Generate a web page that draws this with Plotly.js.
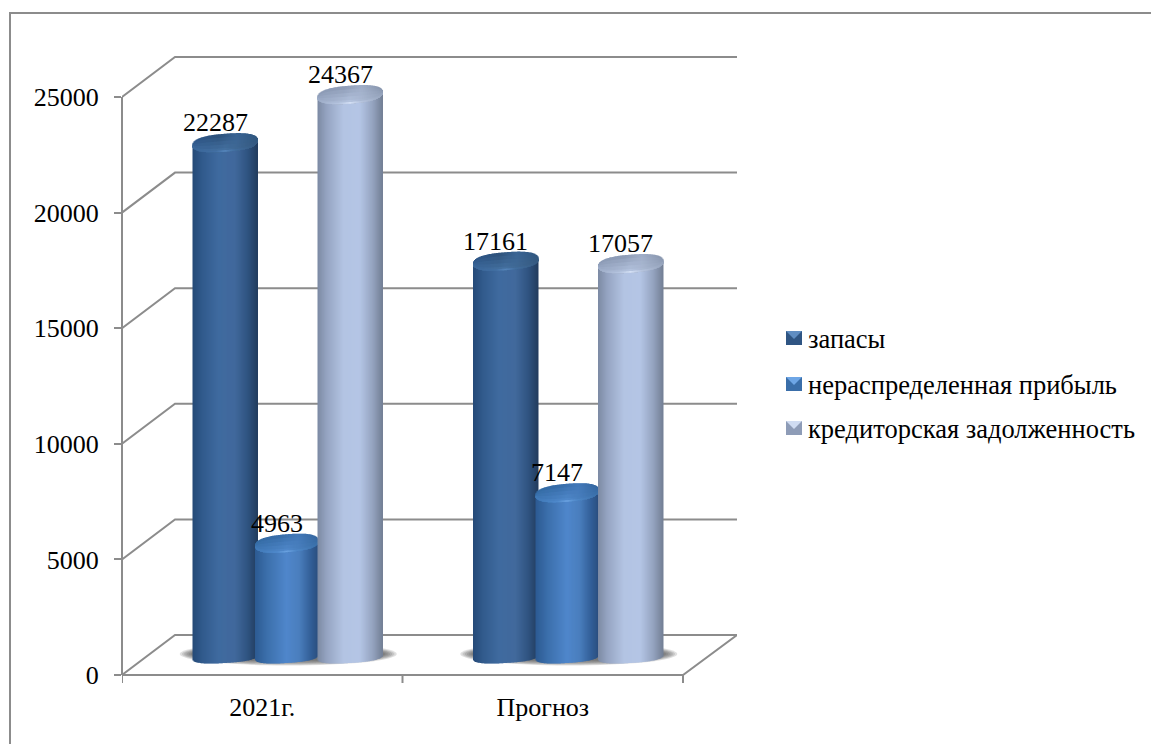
<!DOCTYPE html>
<html><head><meta charset="utf-8">
<script src="https://cdn.plot.ly/plotly-3.0.1.min.js"></script>
<style>html,body{margin:0;padding:0;background:#fff;overflow:hidden}#c{width:1151px;height:744px}</style>
</head><body><div id="c"></div>
<script>
const categories = ["2021г.", "Прогноз"];
const seriesNames = ["запасы", "нераспределенная прибыль", "кредиторская задолженность"];
const zapasy = [22287, 17161];
const pribyl = [4963, 7147];
const kredit = [24367, 17057];
const yTicks = [0, 5000, 10000, 15000, 20000, 25000];

const values = [zapasy, pribyl, kredit];
// styles: horizontal gradients across each cylinder [u, colour]
const bodyStops = [
  [[-1,'#254a78'],[-0.7,'#315a8c'],[-0.2,'#3f6a9f'],[0.3,'#41699c'],[0.7,'#2f5380'],[1,'#223c5e']],
  [[-1,'#2c5a92'],[-0.6,'#3c70ac'],[0,'#4f86cb'],[0.4,'#4a7ebd'],[0.8,'#315c94'],[1,'#2a4e7e']],
  [[-1,'#7c8aa3'],[-0.7,'#96a5c3'],[-0.2,'#b3c4e3'],[0.3,'#b4c5e5'],[0.7,'#94a3bf'],[1,'#737f95']]
];
const capStops = [
  [[-1,'#2f588a'],[-0.2,'#2e527c'],[0.35,'#3a6494'],[1,'#2f567f']],
  [[-1,'#346ba4'],[-0.2,'#386eaa'],[0.35,'#4379b9'],[1,'#33659d']],
  [[-1,'#8c9bb6'],[-0.2,'#8f9db7'],[0.35,'#a0aec8'],[1,'#8795ad']]
];
const lowStops = [
  [[-1,'#3a6698'],[0,'#44709f'],[1,'#35597f']],
  [[-1,'#3f78b6'],[0,'#5088ca'],[1,'#3a6fa8']],
  [[-1,'#9cabc6'],[0,'#b4c3de'],[1,'#96a4bc']]
];
const rimStops = [
  [[-1,'#3a6698'],[-0.3,'#426fa3'],[0,'#5584ba'],[0.3,'#426e9f'],[1,'#35597f']],
  [[-1,'#3f78b6'],[-0.3,'#4f89cb'],[0,'#6aa1e0'],[0.3,'#4f88c8'],[1,'#3a6fa8']],
  [[-1,'#9cabc6'],[-0.3,'#b8c7e2'],[0,'#d4e0f5'],[0.3,'#b8c6e0'],[1,'#96a4bc']]
];
const swatch = [['#2f5583','#5f8dc2'],['#3a6ea9','#6ea6e6'],['#8e9cb7','#d0dcf2']];
const gray = '#8c8c8c';

// pixel geometry of the pseudo-3D frame
const L = 122, R = 737, T = 50, B = 683, W = 1151, H = 744;
const pxPerCat = 280.5, pxPerVal = 578 / 25000, y0Px = 675;
const depthX = 53, depthY = 40;
const xLow = -0.5, xHigh = xLow + (R - L) / pxPerCat;
const yLow = (y0Px - B) / pxPerVal, yHigh = (y0Px - T) / pxPerVal;
const barShift = [-37, 24.5, 88];
const barRad = [32.5, 31.5, 32.5];
const topLift = 17 / pxPerVal, ry = 9 / pxPerVal, tilt = 2.5 / pxPerVal, rimH = 1.6 / pxPerVal;
const baseLift = 18 / pxPerVal, ryBase = 6 / pxPerVal, tiltBase = 2 / pxPerVal;
const stripPx = 1, superExp = 2.5;

function hex(c){return [1,3,5].map(i=>parseInt(c.substr(i,2),16));}
function grad(stops,u){
  for(let i=1;i<stops.length;i++){
    if(u<=stops[i][0]){
      const a=stops[i-1],b=stops[i],t=(u-a[0])/(b[0]-a[0]);
      const ca=hex(a[1]),cb=hex(b[1]);
      return 'rgb('+ca.map((v,k)=>Math.round(v+(cb[k]-v)*t)).join(',')+')';
    }
  }
  return stops[stops.length-1][1];
}
function mix(c1,c2,t){
  const a=c1.match(/\d+/g).map(Number),b=c2.match(/\d+/g).map(Number);
  return 'rgb('+a.map((v,k)=>Math.round(v+(b[k]-v)*t)).join(',')+')';
}
function px2x(x){return (x-L)/(R-L);}
function px2y(y){return (B-y)/(B-T);}

const capFractions = [1, 0.8, 0.6, 0.4, 0.2];
const traces = [];
values.forEach((vals,s)=>{
  const rad = barRad[s], n = Math.round(2*rad/stripPx);
  const newT=()=>({x:[],y:[],base:[],offset:[],width:[],color:[]});
  const body=newT(), rim=newT(), caps=capFractions.map(newT);
  vals.forEach((v,c)=>{
    for(let i=0;i<n;i++){
      const u=-1+(2*i+1)/n;
      const shape=Math.pow(1-Math.pow(Math.abs(u),superExp),1/superExp);
      const h=ry*shape, hb=ryBase*shape;
      const low=tilt*u-h;
      const lowB=tiltBase*u-hb;
      const off=(barShift[s]+u*rad-stripPx*0.75)/pxPerCat;
      const wid=stripPx*1.5/pxPerCat;
      const push=(t,height,base,col)=>{t.x.push(c);t.y.push(height);t.base.push(base);t.offset.push(off);t.width.push(wid);t.color.push(col);};
      const capBase=v+topLift+low;
      push(body,capBase-baseLift-lowB,baseLift+lowB,grad(bodyStops[s],u));
      capFractions.forEach((f,k)=>{
        const col=mix(grad(capStops[s],u),grad(lowStops[s],u),k/(capFractions.length-1));
        push(caps[k],2*h*f,capBase,col);
      });
      push(rim,Math.min(rimH,2*h),capBase,grad(rimStops[s],u));
    }
  });
  [body,...caps,rim].forEach(t=>traces.push({type:'bar',x:t.x,y:t.y,base:t.base,offset:t.offset,width:t.width,
    marker:{color:t.color,line:{width:0}},showlegend:false,hoverinfo:'skip',name:seriesNames[s]}));
});

const shapes=[];
// frame
shapes.push({type:'path',xref:'paper',yref:'paper',layer:'below',
  path:`M${px2x(10)},${px2y(H+2)} L${px2x(10)},${px2y(13)} L${px2x(W+2)},${px2y(13)}`,line:{color:gray,width:2}});
// walls
const xb=xLow+depthX/pxPerCat, dv=depthY/pxPerVal;
yTicks.forEach(v=>{
  shapes.push({type:'path',xref:'x',yref:'y',layer:'below',
    path:`M${xLow},${v} L${xb},${v+dv} L${xHigh},${v+dv}`,line:{color:gray,width:2}});
});
shapes.push({type:'path',xref:'x',yref:'y',layer:'below',path:`M${xLow},0 L1.5,0 L${xHigh},${dv}`,line:{color:gray,width:2}});
shapes.push({type:'line',xref:'paper',yref:'paper',layer:'below',x0:px2x(L),x1:px2x(L),
  y0:px2y(y0Px),y1:px2y(y0Px-25000*pxPerVal),line:{color:gray,width:2}});
[-0.5,0.5,1.5].forEach(x=>shapes.push({type:'line',xref:'x',yref:'y',layer:'below',x0:x,x1:x,y0:0,y1:yLow,line:{color:gray,width:2}}));
// floor shadows
categories.forEach((_,c)=>{
  const cx=c+(288.5-262.5)/pxPerCat;
  for(let k=0;k<7;k++){
    const rx=(108.5-k*2.2)/pxPerCat, rv=(11.5-k*0.8)/pxPerVal, cv=(y0Px-654)/pxPerVal;
    shapes.push({type:'circle',xref:'x',yref:'y',layer:'below',x0:cx-rx,x1:cx+rx,y0:cv-rv,y1:cv+rv,
      fillcolor:'rgba(70,70,70,0.17)',line:{width:0}});
  }
});
// legend swatches
const legendY=[339,385,429];
const annotations=[];
seriesNames.forEach((name,s)=>{
  const y=legendY[s]-1;
  const xa=786,xb2=802,ya=y-7,yb=y+7;
  shapes.push({type:'rect',xref:'paper',yref:'paper',x0:px2x(xa),x1:px2x(xb2),y0:px2y(ya),y1:px2y(yb),fillcolor:swatch[s][0],line:{width:0}});
  shapes.push({type:'path',xref:'paper',yref:'paper',fillcolor:swatch[s][1],line:{width:0},
    path:`M${px2x(xa)},${px2y(ya)} L${px2x(xb2)},${px2y(ya)} L${px2x((xa+xb2)/2)},${px2y(y+1)} Z`});
  annotations.push({xref:'paper',yref:'paper',x:px2x(806),y:px2y(legendY[s]),text:name,showarrow:false,xanchor:'left',yanchor:'middle',
    font:{family:'Liberation Serif',size:26.5,color:'#000'}});
});
// value labels
values.forEach((vals,s)=>vals.forEach((v,c)=>{
  annotations.push({xref:'x',yref:'y',x:c,y:v+topLift,text:String(v),showarrow:false,
    xshift:barShift[s]-10,yshift:20,font:{family:'Liberation Serif',size:26,color:'#000'}});
}));

const layout={
  width:W,height:H,margin:{l:L,r:W-R,t:T,b:H-B,pad:0},
  paper_bgcolor:'#fff',plot_bgcolor:'rgba(0,0,0,0)',
  barmode:'overlay',showlegend:false,
  font:{family:'Liberation Serif',size:26,color:'#000'},
  xaxis:{type:'linear',range:[xLow,xHigh],tickmode:'array',tickvals:[0,1],ticktext:categories,
    ticks:'outside',ticklen:1,tickcolor:'rgba(0,0,0,0)',showgrid:false,zeroline:false,showline:false,fixedrange:true},
  yaxis:{type:'linear',range:[yLow,yHigh],tickmode:'array',tickvals:yTicks,ticktext:yTicks.map(String),
    ticks:'outside',ticklen:7,tickwidth:2,tickcolor:gray,ticklabelstandoff:10,showgrid:false,zeroline:false,showline:false,fixedrange:true},
  shapes,annotations
};
Plotly.newPlot('c',traces,layout,{displayModeBar:false,staticPlot:true});
</script></body></html>
